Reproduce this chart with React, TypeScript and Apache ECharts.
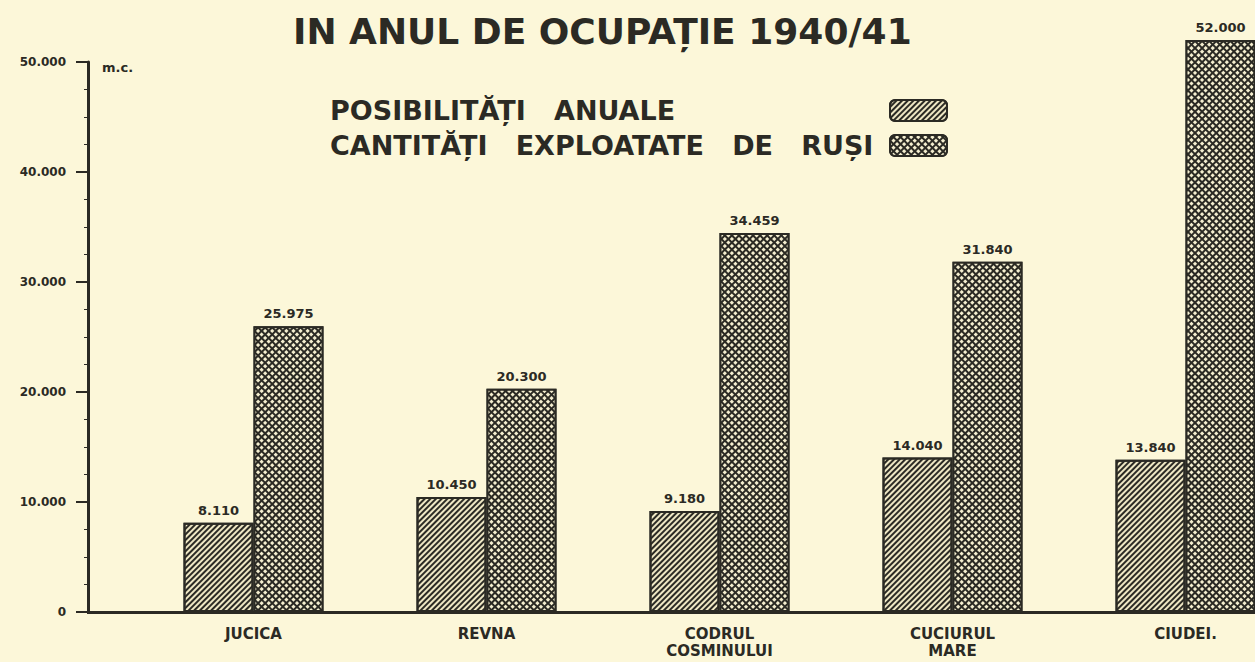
import React, { useEffect, useRef } from "react";
import * as echarts from "echarts";

const categories = ["JUCICA", "REVNA", "CODRUL\nCOSMINULUI", "CUCIURUL\nMARE", "CIUDEI."];
const posibilitati = [8110, 10450, 9180, 14040, 13840];
const exploatate = [25975, 20300, 34459, 31840, 52000];
const seriesNames = ["POSIBILITĂȚI   ANUALE", "CANTITĂȚI   EXPLOATATE   DE   RUȘI"];
const titleText = "IN ANUL DE OCUPAȚIE 1940/41";
const unitText = "m.c.";

const INK = "#2b2a24";
const PAPER = "#fcf7d9";
const FONT = "DejaVu Sans";

const fmt = (v: number) =>
  v >= 1000 ? `${Math.floor(v / 1000)}.${String(v % 1000).padStart(3, "0")}` : String(v);

export default function App() {
  const ref = useRef<HTMLDivElement>(null);
  useEffect(() => {
    if (!ref.current) return;
    const chart = echarts.init(ref.current, null, { renderer: "svg" });
    const hatch = {
      symbol: "rect",
      symbolSize: 1,
      color: INK,
      dashArrayX: [1, 0],
      dashArrayY: [2, 2],
      rotation: -Math.PI / 4,
    };
    const cross = {
      symbol: "rect",
      symbolSize: 1,
      color: "#f4eecf",
      dashArrayX: [3, 2],
      dashArrayY: [3, 2],
      rotation: Math.PI / 4,
    };
    const barLabel = {
      show: true,
      position: "top",
      distance: 6,
      formatter: (p: any) => fmt(p.value),
      fontFamily: FONT,
      fontWeight: "bold",
      fontSize: 13,
      color: INK,
    };
    chart.setOption({
      animation: false,
      backgroundColor: PAPER,
      title: {
        text: titleText,
        left: 288,
        top: 8,
        textStyle: { fontFamily: FONT, fontWeight: "bold", fontSize: 36, color: INK },
      },
      legend: {
        orient: "vertical",
        left: 325,
        top: 92,
        align: "right",
        itemWidth: 57,
        itemHeight: 21,
        itemGap: 8,
        icon: "roundRect",
        data: seriesNames,
        formatter: (name: string) => `{t|${name}}`,
        textStyle: {
          rich: {
            t: {
              width: 555,
              align: "left",
              fontFamily: FONT,
              fontWeight: "bold",
              fontSize: 27,
              color: INK,
            },
          },
        },
      },
      grid: {
        left: 137,
        top: 62,
        width: 1165,
        bottom: 50,
        containLabel: false,
        outerBoundsMode: "none",
      },
      xAxis: {
        type: "category",
        data: categories,
        axisLine: { lineStyle: { color: INK, width: 3 } },
        axisTick: { show: false },
        axisLabel: {
          fontFamily: FONT,
          fontWeight: "bold",
          fontSize: 15,
          color: INK,
          lineHeight: 17,
          margin: 13,
          interval: 0,
        },
      },
      yAxis: {
        type: "value",
        min: 0,
        max: 50000,
        interval: 10000,
        offset: 49,
        axisLine: { show: true, lineStyle: { color: INK, width: 3 } },
        axisTick: { show: true, length: 12, lineStyle: { color: INK, width: 2 } },
        minorTick: { show: true, splitNumber: 4, length: 4, lineStyle: { color: INK } },
        splitLine: { show: false },
        axisLabel: {
          fontFamily: FONT,
          fontWeight: "bold",
          fontSize: 12,
          color: INK,
          margin: 22,
          formatter: (v: number) => fmt(v),
        },
      },
      graphic: [
        {
          type: "line",
          shape: { x1: 87, y1: 612.5, x2: 140, y2: 612.5 },
          style: { stroke: INK, lineWidth: 3 },
        },
        {
          type: "text",
          left: 102,
          top: 61,
          style: { text: unitText, font: `bold 13px "${FONT}"`, fill: INK },
        },
      ],
      series: [
        {
          name: seriesNames[0],
          type: "bar",
          data: posibilitati,
          barWidth: 70,
          barGap: "0%",
          clip: false,
          itemStyle: { color: "#eee7c4", borderColor: INK, borderWidth: 2, decal: hatch },
          label: barLabel,
        },
        {
          name: seriesNames[1],
          type: "bar",
          data: exploatate,
          barWidth: 70,
          clip: false,
          itemStyle: { color: INK, borderColor: INK, borderWidth: 2, decal: cross },
          label: barLabel,
        },
      ],
    });
    return () => chart.dispose();
  }, []);
  return (
    <div
      ref={ref}
      style={{ position: "fixed", left: 0, top: 0, width: 1255, height: 662, background: PAPER }}
    />
  );
}
